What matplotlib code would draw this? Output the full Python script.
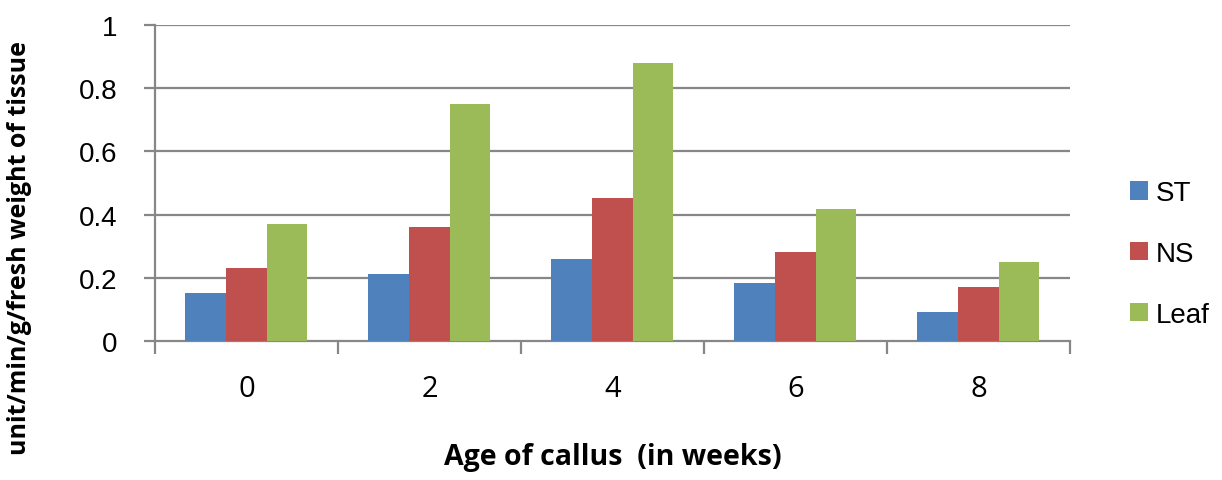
import numpy as np
import matplotlib.pyplot as plt
from matplotlib.patches import Patch

weeks = ["0", "2", "4", "6", "8"]
series_names = ["ST", "NS", "Leaf"]
st_values = [0.152, 0.212, 0.259, 0.184, 0.092]
ns_values = [0.231, 0.361, 0.453, 0.282, 0.171]
leaf_values = [0.370, 0.750, 0.880, 0.418, 0.250]

colors = ["#4f81bd", "#c0504d", "#9bbb59"]
gray = "#878787"

fig = plt.figure(figsize=(12.22, 4.81), dpi=100)
ax = fig.add_axes([0.1268, 0.289, 0.7488, 0.657])

x = np.arange(len(weeks))
w = 1 / 4.5
for i, vals in enumerate([st_values, ns_values, leaf_values]):
    ax.bar(x + (i - 1) * w, vals, width=w, color=colors[i], zorder=3)

ax.set_xlim(-0.5, len(weeks) - 0.5)
ax.set_ylim(0, 1)
ax.set_yticks([0, 0.2, 0.4, 0.6, 0.8, 1.0])
ax.set_yticklabels(["0", "0.2", "0.4", "0.6", "0.8", "1"],
                   fontsize=20, family="Liberation Sans")
for y in [0.2, 0.4, 0.6, 0.8, 1.0]:
    ax.axhline(y, color=gray, linewidth=1.6, zorder=1)

ax.set_xticks(x)
ax.set_xticklabels(weeks, fontsize=21, family="Open Sans")
ax.set_xticks(np.arange(-0.5, len(weeks), 1), minor=True)
ax.tick_params(axis="x", which="major", length=0, pad=24)
ax.tick_params(axis="x", which="minor", length=9, width=1.6, color=gray)
ax.tick_params(axis="y", length=8, width=1.6, color=gray, pad=19)

for s in ["top", "right"]:
    ax.spines[s].set_visible(False)
for s in ["left", "bottom"]:
    ax.spines[s].set_color(gray)
    ax.spines[s].set_linewidth(1.6)

ax.set_xlabel("Age of callus  (in weeks)", fontsize=20.5, family="Open Sans",
              fontweight="bold")
ax.xaxis.label.set_va("center")
ax.xaxis.set_label_coords(0.5, -0.367)
ax.set_ylabel("unit/min/g/fresh weight of tissue", fontsize=18,
              family="Open Sans", fontweight="bold")
ax.yaxis.label.set_va("center")
ax.yaxis.set_label_coords(-0.1475, 0.299)

handles = [Patch(facecolor=c, edgecolor="none") for c in colors]
fig.legend(handles, series_names, loc="center left",
           bbox_to_anchor=(0.904, 0.47), frameon=False,
           prop={"family": "Liberation Sans", "size": 20},
           handlelength=0.65, handleheight=0.65, handletextpad=0.3,
           labelspacing=1.25)

fig.savefig("out.png", dpi=100)
